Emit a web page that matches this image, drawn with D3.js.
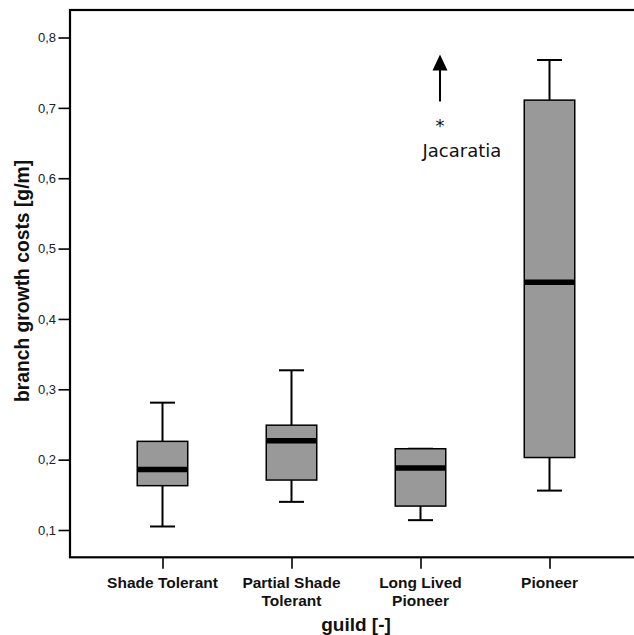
<!DOCTYPE html>
<html>
<head>
<meta charset="utf-8">
<script src="https://cdn.jsdelivr.net/npm/d3@7"></script>
<style>
  html, body { margin: 0; padding: 0; background: #fff; }
  svg { display: block; }
</style>
</head>
<body>
<svg id="chart" width="634" height="635"></svg>
<script>
// ---- data ----
const categories = ["Shade Tolerant", "Partial Shade Tolerant", "Long Lived Pioneer", "Pioneer"];
const categoryLines = [["Shade Tolerant"], ["Partial Shade", "Tolerant"], ["Long Lived", "Pioneer"], ["Pioneer"]];
const whiskerLow  = [0.105, 0.140, 0.114, 0.156];
const quartile1   = [0.163, 0.171, 0.134, 0.203];
const medians     = [0.186, 0.227, 0.188, 0.452];
const quartile3   = [0.226, 0.249, 0.2155, 0.711];
const whiskerHigh = [0.281, 0.327, 0.2155, 0.768];
const yTicks = [0.1, 0.2, 0.3, 0.4, 0.5, 0.6, 0.7, 0.8];
const outlierLabel = "Jacaratia";
const outlierArrow = { from: 0.709, to: 0.776 };

(function () {
// ---- layout ----
const svg = d3.select("#chart");
const mLeft = 70, mTop = 10, mBottom = 557.3, mRight = 642;

const x = d3.scalePoint().domain(categories).range([mLeft, mRight]).padding(0.717);
const y = d3.scaleLinear().domain([0.0612, 0.8391]).range([mBottom, mTop]);

const locale = d3.formatLocale({ decimal: ",", thousands: ".", grouping: [3], currency: ["", ""] });
const fmt = locale.format(".1f");

// frame
svg.append("rect")
  .attr("x", mLeft).attr("y", mTop)
  .attr("width", 700).attr("height", mBottom - mTop)
  .attr("fill", "none").attr("stroke", "#000").attr("stroke-width", 2.2);

// y axis
const yAxis = d3.axisLeft(y).tickValues(yTicks).tickFormat(fmt).tickSize(11.5).tickPadding(2.5);
const gy = svg.append("g").attr("transform", `translate(${mLeft},0)`).call(yAxis);
gy.select(".domain").remove();
gy.selectAll(".tick line").attr("stroke", "#000").attr("stroke-width", 1.6);
gy.selectAll(".tick text")
  .attr("font-family", "'Liberation Sans', Arial, sans-serif")
  .attr("font-size", 13).attr("fill", "#222");

// x axis
const xAxis = d3.axisBottom(x).tickSize(11.5).tickFormat("");
const gx = svg.append("g").attr("transform", `translate(0,${mBottom})`).call(xAxis);
gx.select(".domain").remove();
gx.selectAll(".tick line").attr("stroke", "#000").attr("stroke-width", 1.6);

categories.forEach((c, i) => {
  const t = svg.append("text")
    .attr("x", x(c)).attr("y", 588)
    .attr("text-anchor", "middle")
    .attr("font-family", "'Liberation Sans', Arial, sans-serif")
    .attr("font-weight", "bold").attr("font-size", 15.5).attr("fill", "#111");
  categoryLines[i].forEach((line, j) => {
    t.append("tspan").attr("x", x(c)).attr("dy", j === 0 ? 0 : 17.5).text(line);
  });
});

// axis titles
svg.append("text")
  .attr("x", 356).attr("y", 631)
  .attr("text-anchor", "middle")
  .attr("font-family", "'Liberation Sans', Arial, sans-serif")
  .attr("font-weight", "bold").attr("font-size", 19).attr("fill", "#111")
  .text("guild [-]");

svg.append("text")
  .attr("transform", "translate(29,281) rotate(-90)")
  .attr("text-anchor", "middle")
  .attr("font-family", "'Liberation Sans', Arial, sans-serif")
  .attr("font-weight", "bold").attr("font-size", 19.3).attr("fill", "#111")
  .text("branch growth costs [g/m]");

// boxes
const boxW = 50.5, capW = 25;
const data = categories.map((c, i) => ({
  c, lo: whiskerLow[i], q1: quartile1[i], med: medians[i], q3: quartile3[i], hi: whiskerHigh[i]
}));

const g = svg.append("g");
data.forEach(d => {
  const cx = x(d.c);
  g.append("line").attr("x1", cx).attr("x2", cx).attr("y1", y(d.hi)).attr("y2", y(d.q3))
    .attr("stroke", "#000").attr("stroke-width", 2);
  g.append("line").attr("x1", cx).attr("x2", cx).attr("y1", y(d.q1)).attr("y2", y(d.lo))
    .attr("stroke", "#000").attr("stroke-width", 2);
  g.append("line").attr("x1", cx - capW / 2).attr("x2", cx + capW / 2).attr("y1", y(d.hi)).attr("y2", y(d.hi))
    .attr("stroke", "#000").attr("stroke-width", 2);
  g.append("line").attr("x1", cx - capW / 2).attr("x2", cx + capW / 2).attr("y1", y(d.lo)).attr("y2", y(d.lo))
    .attr("stroke", "#000").attr("stroke-width", 2);
  g.append("rect")
    .attr("x", cx - boxW / 2).attr("y", y(d.q3))
    .attr("width", boxW).attr("height", y(d.q1) - y(d.q3))
    .attr("fill", "#999999").attr("stroke", "#000").attr("stroke-width", 1.5);
  g.append("line").attr("x1", cx - boxW / 2).attr("x2", cx + boxW / 2).attr("y1", y(d.med)).attr("y2", y(d.med))
    .attr("stroke", "#000").attr("stroke-width", 5.5);
});

// outlier annotation
const ax = 440;
const tipY = y(outlierArrow.to);
svg.append("line").attr("x1", ax).attr("x2", ax)
  .attr("y1", y(outlierArrow.from)).attr("y2", tipY + 14)
  .attr("stroke", "#000").attr("stroke-width", 2);
svg.append("path")
  .attr("d", `M${ax},${tipY} L${ax - 7.5},${tipY + 16} L${ax + 7.5},${tipY + 16} Z`)
  .attr("fill", "#000");
svg.append("text")
  .attr("x", ax).attr("y", 132)
  .attr("text-anchor", "middle")
  .attr("font-family", "'DejaVu Sans', Verdana, sans-serif")
  .attr("font-size", 18).attr("fill", "#111")
  .text("*");
svg.append("text")
  .attr("x", 422.5).attr("y", 156.7)
  .attr("font-family", "'DejaVu Sans', Verdana, sans-serif")
  .attr("font-size", 18).attr("fill", "#111")
  .text(outlierLabel);
})();
</script>
</body>
</html>
